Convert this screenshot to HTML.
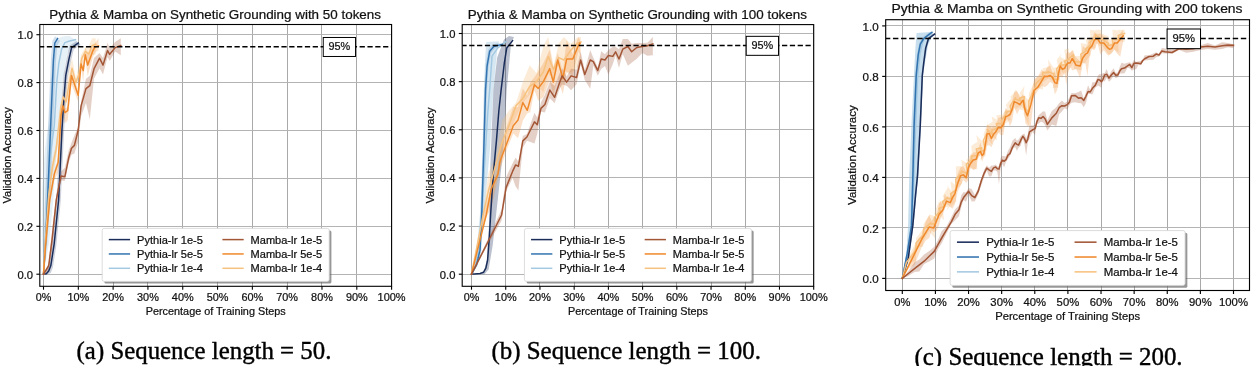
<!DOCTYPE html><html><head><meta charset="utf-8"><style>html,body{margin:0;padding:0;background:#fff;}body{width:1255px;height:366px;overflow:hidden;}svg{display:block;will-change:transform;font-family:"Liberation Sans",sans-serif;}</style></head><body>
<svg width="1255" height="366" viewBox="0 0 1255 366">
<rect width="1255" height="366" fill="#fff"/>
<clipPath id="c1"><rect x="39.80" y="24.50" width="351.80" height="261.80"/></clipPath>
<line x1="43.50" y1="24.50" x2="43.50" y2="286.30" stroke="#a9a9a9" stroke-width="1.00"/>
<line x1="78.50" y1="24.50" x2="78.50" y2="286.30" stroke="#a9a9a9" stroke-width="1.00"/>
<line x1="113.50" y1="24.50" x2="113.50" y2="286.30" stroke="#a9a9a9" stroke-width="1.00"/>
<line x1="147.50" y1="24.50" x2="147.50" y2="286.30" stroke="#a9a9a9" stroke-width="1.00"/>
<line x1="182.50" y1="24.50" x2="182.50" y2="286.30" stroke="#a9a9a9" stroke-width="1.00"/>
<line x1="217.50" y1="24.50" x2="217.50" y2="286.30" stroke="#a9a9a9" stroke-width="1.00"/>
<line x1="252.50" y1="24.50" x2="252.50" y2="286.30" stroke="#a9a9a9" stroke-width="1.00"/>
<line x1="287.50" y1="24.50" x2="287.50" y2="286.30" stroke="#a9a9a9" stroke-width="1.00"/>
<line x1="321.50" y1="24.50" x2="321.50" y2="286.30" stroke="#a9a9a9" stroke-width="1.00"/>
<line x1="356.50" y1="24.50" x2="356.50" y2="286.30" stroke="#a9a9a9" stroke-width="1.00"/>
<line x1="391.50" y1="24.50" x2="391.50" y2="286.30" stroke="#a9a9a9" stroke-width="1.00"/>
<line x1="39.80" y1="274.50" x2="391.60" y2="274.50" stroke="#b4b4b4" stroke-width="1.00"/>
<line x1="39.80" y1="226.50" x2="391.60" y2="226.50" stroke="#b4b4b4" stroke-width="1.00"/>
<line x1="39.80" y1="178.50" x2="391.60" y2="178.50" stroke="#b4b4b4" stroke-width="1.00"/>
<line x1="39.80" y1="130.50" x2="391.60" y2="130.50" stroke="#b4b4b4" stroke-width="1.00"/>
<line x1="39.80" y1="82.50" x2="391.60" y2="82.50" stroke="#b4b4b4" stroke-width="1.00"/>
<line x1="39.80" y1="34.50" x2="391.60" y2="34.50" stroke="#b4b4b4" stroke-width="1.00"/>
<g clip-path="url(#c1)">
<polygon points="43.50,274.20 41.88,235.08 42.11,190.38 44.89,149.66 48.72,120.92 51.16,77.81 53.25,58.65 56.03,44.28 59.34,37.81 64.04,36.14 69.96,35.90 81.09,44.52 75.18,45.72 70.48,47.39 67.17,53.86 64.39,68.23 62.30,87.39 59.86,130.50 56.03,159.24 53.25,199.95 49.30,241.47 43.50,274.20" fill="#a3c9e2" fill-opacity="0.28"/>
<polygon points="43.50,274.20 43.86,242.19 45.17,197.56 48.03,128.10 50.98,57.69 52.38,40.69 55.16,36.14 60.03,40.93 57.25,45.48 55.86,62.48 52.90,132.90 50.04,202.35 47.11,245.38 43.50,274.20" fill="#3374b0" fill-opacity="0.22"/>
<polygon points="43.50,274.20 44.89,272.44 46.63,269.17 48.72,263.66 52.10,241.87 56.52,198.04 59.86,128.10 61.84,96.25 63.69,73.50 66.65,58.17 69.50,45.72 76.22,41.17 80.40,45.00 73.68,49.55 70.83,62.00 67.87,77.33 66.02,100.08 64.04,131.94 60.70,201.87 56.28,245.70 52.90,267.49 50.81,273.00 47.68,274.20 43.50,274.20" fill="#1a2d5a" fill-opacity="0.22"/>
<polygon points="43.50,274.20 45.24,239.11 48.72,182.52 52.55,157.96 56.03,144.45 58.82,116.02 60.91,102.25 63.34,92.70 66.13,91.43 69.26,69.37 72.04,58.30 75.87,77.66 79.35,64.35 81.79,53.38 85.27,47.81 88.75,46.08 92.23,38.29 95.72,38.29 95.72,54.30 92.23,55.27 88.75,65.69 85.27,59.48 81.79,64.44 79.35,76.97 75.87,86.10 72.04,77.77 69.26,95.66 66.13,105.53 63.34,108.47 60.91,112.95 58.82,137.04 56.03,158.16 52.55,175.69 48.72,203.20 45.24,247.56 43.50,274.20" fill="#f7c27f" fill-opacity="0.30"/>
<polygon points="43.50,274.20 45.59,241.98 49.77,191.34 54.29,171.12 58.12,157.36 60.10,121.19 61.01,107.72 62.89,101.70 64.91,108.26 67.69,107.24 71.49,71.90 78.21,89.51 81.09,53.78 83.18,67.23 85.27,47.56 87.71,53.73 92.93,46.66 95.02,42.88 98.50,38.29 98.50,50.24 95.02,52.48 92.93,57.03 87.71,76.15 85.27,58.48 83.18,81.39 81.09,66.95 78.21,101.66 71.49,84.21 67.69,120.56 64.91,123.22 62.89,112.50 61.01,123.99 60.10,138.08 58.12,172.45 54.29,180.19 49.77,204.06 45.59,249.73 43.50,274.20" fill="#f0892b" fill-opacity="0.25"/>
<polygon points="43.50,274.20 48.72,263.02 52.20,229.50 56.28,195.48 61.01,171.86 64.91,167.52 68.70,150.35 71.52,142.81 74.41,135.25 78.21,127.02 81.09,101.69 85.97,78.73 89.80,75.71 93.97,57.89 99.54,53.08 103.03,58.05 107.55,42.77 109.64,48.32 115.21,42.05 120.78,38.29 120.78,55.23 115.21,51.52 109.64,60.92 107.55,57.08 103.03,74.50 99.54,68.37 93.97,78.67 89.80,119.24 85.97,102.96 81.09,116.22 78.21,142.00 74.41,153.47 71.52,154.82 68.70,162.52 64.91,180.72 61.01,180.82 56.28,204.82 52.20,248.47 48.72,269.97 43.50,274.20" fill="#a35636" fill-opacity="0.28"/>
<polyline points="43.50,274.20 45.59,238.27 47.68,195.16 50.46,154.45 54.29,125.71 56.73,82.60 58.82,63.44 61.60,49.07 64.91,42.60 69.61,40.93 75.53,39.73" fill="none" stroke="#a3c9e2" stroke-width="1.50" stroke-linejoin="round" stroke-linecap="square"/>
<polyline points="43.50,274.20 45.48,243.78 47.61,199.95 50.46,130.50 53.42,60.09 54.81,43.08 57.60,38.53" fill="none" stroke="#3374b0" stroke-width="1.50" stroke-linejoin="round" stroke-linecap="square"/>
<polyline points="43.50,274.20 46.28,273.72 48.72,271.09 50.81,265.58 54.19,243.78 58.61,199.95 61.95,130.02 63.93,98.17 65.78,75.41 68.74,60.09 71.59,47.63 78.31,43.08" fill="none" stroke="#1a2d5a" stroke-width="1.50" stroke-linejoin="round" stroke-linecap="square"/>
<polyline points="43.50,274.20 45.24,243.06 48.72,195.16 52.55,166.42 56.03,149.66 58.82,125.71 60.91,106.55 63.34,96.97 66.13,101.76 69.26,82.60 72.04,68.23 75.87,82.60 79.35,73.02 81.79,58.65 85.27,51.46 88.75,53.86 92.23,45.48 95.72,44.28" fill="none" stroke="#f7c27f" stroke-width="1.50" stroke-linejoin="round" stroke-linecap="square"/>
<polyline points="43.50,274.20 45.59,245.46 49.77,199.95 54.29,174.09 58.12,162.59 60.10,130.02 61.01,115.41 62.89,105.83 64.91,112.54 67.69,110.62 71.49,75.41 78.21,95.29 81.09,63.92 83.18,70.62 85.27,54.82 87.71,65.12 92.93,50.51 95.02,46.91 98.50,45.96" fill="none" stroke="#f0892b" stroke-width="1.50" stroke-linejoin="round" stroke-linecap="square"/>
<polyline points="43.50,274.20 48.72,265.58 52.20,238.27 56.28,199.95 61.01,176.00 64.91,176.72 68.70,157.80 71.52,148.22 74.41,145.35 78.21,130.02 81.09,105.83 85.97,88.59 89.80,85.71 93.97,68.95 99.54,58.17 103.03,65.12 107.55,50.51 109.64,54.34 115.21,47.63 120.78,45.48" fill="none" stroke="#a35636" stroke-width="1.50" stroke-linejoin="round" stroke-linecap="square"/>
<line x1="39.80" y1="46.68" x2="391.60" y2="46.68" stroke="#000" stroke-width="1.50" stroke-dasharray="5.25 2.57" stroke-dashoffset="0.80"/>
</g>
<rect x="323.24" y="37.48" width="32.30" height="19.00" fill="#fff" stroke="#000" stroke-width="1.00"/>
<text x="339.39" y="50.28" font-size="10.39" text-anchor="middle" textLength="21.78" lengthAdjust="spacingAndGlyphs" fill="#111" stroke="#111" stroke-width="0.22">95%</text>
<rect x="39.80" y="24.50" width="351.80" height="261.80" fill="none" stroke="#000" stroke-width="1.10"/>
<line x1="43.50" y1="286.30" x2="43.50" y2="289.70" stroke="#000" stroke-width="1.10"/>
<text x="43.50" y="301.10" font-size="10.39" text-anchor="middle" textLength="15.55" lengthAdjust="spacingAndGlyphs" fill="#111" stroke="#111" stroke-width="0.22">0%</text>
<line x1="78.31" y1="286.30" x2="78.31" y2="289.70" stroke="#000" stroke-width="1.10"/>
<text x="78.31" y="301.10" font-size="10.39" text-anchor="middle" textLength="21.78" lengthAdjust="spacingAndGlyphs" fill="#111" stroke="#111" stroke-width="0.22">10%</text>
<line x1="113.12" y1="286.30" x2="113.12" y2="289.70" stroke="#000" stroke-width="1.10"/>
<text x="113.12" y="301.10" font-size="10.39" text-anchor="middle" textLength="21.78" lengthAdjust="spacingAndGlyphs" fill="#111" stroke="#111" stroke-width="0.22">20%</text>
<line x1="147.93" y1="286.30" x2="147.93" y2="289.70" stroke="#000" stroke-width="1.10"/>
<text x="147.93" y="301.10" font-size="10.39" text-anchor="middle" textLength="21.78" lengthAdjust="spacingAndGlyphs" fill="#111" stroke="#111" stroke-width="0.22">30%</text>
<line x1="182.74" y1="286.30" x2="182.74" y2="289.70" stroke="#000" stroke-width="1.10"/>
<text x="182.74" y="301.10" font-size="10.39" text-anchor="middle" textLength="21.78" lengthAdjust="spacingAndGlyphs" fill="#111" stroke="#111" stroke-width="0.22">40%</text>
<line x1="217.55" y1="286.30" x2="217.55" y2="289.70" stroke="#000" stroke-width="1.10"/>
<text x="217.55" y="301.10" font-size="10.39" text-anchor="middle" textLength="21.78" lengthAdjust="spacingAndGlyphs" fill="#111" stroke="#111" stroke-width="0.22">50%</text>
<line x1="252.36" y1="286.30" x2="252.36" y2="289.70" stroke="#000" stroke-width="1.10"/>
<text x="252.36" y="301.10" font-size="10.39" text-anchor="middle" textLength="21.78" lengthAdjust="spacingAndGlyphs" fill="#111" stroke="#111" stroke-width="0.22">60%</text>
<line x1="287.17" y1="286.30" x2="287.17" y2="289.70" stroke="#000" stroke-width="1.10"/>
<text x="287.17" y="301.10" font-size="10.39" text-anchor="middle" textLength="21.78" lengthAdjust="spacingAndGlyphs" fill="#111" stroke="#111" stroke-width="0.22">70%</text>
<line x1="321.98" y1="286.30" x2="321.98" y2="289.70" stroke="#000" stroke-width="1.10"/>
<text x="321.98" y="301.10" font-size="10.39" text-anchor="middle" textLength="21.78" lengthAdjust="spacingAndGlyphs" fill="#111" stroke="#111" stroke-width="0.22">80%</text>
<line x1="356.79" y1="286.30" x2="356.79" y2="289.70" stroke="#000" stroke-width="1.10"/>
<text x="356.79" y="301.10" font-size="10.39" text-anchor="middle" textLength="21.78" lengthAdjust="spacingAndGlyphs" fill="#111" stroke="#111" stroke-width="0.22">90%</text>
<line x1="391.60" y1="286.30" x2="391.60" y2="289.70" stroke="#000" stroke-width="1.10"/>
<text x="391.60" y="301.10" font-size="10.39" text-anchor="middle" textLength="28.02" lengthAdjust="spacingAndGlyphs" fill="#111" stroke="#111" stroke-width="0.22">100%</text>
<line x1="36.40" y1="274.20" x2="39.80" y2="274.20" stroke="#000" stroke-width="1.10"/>
<text x="33.00" y="278.70" font-size="10.39" text-anchor="end" textLength="15.59" lengthAdjust="spacingAndGlyphs" fill="#111" stroke="#111" stroke-width="0.22">0.0</text>
<line x1="36.40" y1="226.30" x2="39.80" y2="226.30" stroke="#000" stroke-width="1.10"/>
<text x="33.00" y="230.80" font-size="10.39" text-anchor="end" textLength="15.59" lengthAdjust="spacingAndGlyphs" fill="#111" stroke="#111" stroke-width="0.22">0.2</text>
<line x1="36.40" y1="178.40" x2="39.80" y2="178.40" stroke="#000" stroke-width="1.10"/>
<text x="33.00" y="182.90" font-size="10.39" text-anchor="end" textLength="15.59" lengthAdjust="spacingAndGlyphs" fill="#111" stroke="#111" stroke-width="0.22">0.4</text>
<line x1="36.40" y1="130.50" x2="39.80" y2="130.50" stroke="#000" stroke-width="1.10"/>
<text x="33.00" y="135.00" font-size="10.39" text-anchor="end" textLength="15.59" lengthAdjust="spacingAndGlyphs" fill="#111" stroke="#111" stroke-width="0.22">0.6</text>
<line x1="36.40" y1="82.60" x2="39.80" y2="82.60" stroke="#000" stroke-width="1.10"/>
<text x="33.00" y="87.10" font-size="10.39" text-anchor="end" textLength="15.59" lengthAdjust="spacingAndGlyphs" fill="#111" stroke="#111" stroke-width="0.22">0.8</text>
<line x1="36.40" y1="34.70" x2="39.80" y2="34.70" stroke="#000" stroke-width="1.10"/>
<text x="33.00" y="39.20" font-size="10.39" text-anchor="end" textLength="15.59" lengthAdjust="spacingAndGlyphs" fill="#111" stroke="#111" stroke-width="0.22">1.0</text>
<text x="215.70" y="314.90" font-size="10.39" text-anchor="middle" textLength="140.01" lengthAdjust="spacingAndGlyphs" fill="#111" stroke="#111" stroke-width="0.22">Percentage of Training Steps</text>
<text x="11.20" y="155.40" font-size="10.39" text-anchor="middle" textLength="96.25" lengthAdjust="spacingAndGlyphs" fill="#111" stroke="#111" stroke-width="0.22" transform="rotate(-90 11.20 155.40)">Validation Accuracy</text>
<text x="215.10" y="18.70" font-size="12.49" text-anchor="middle" textLength="331.74" lengthAdjust="spacingAndGlyphs" fill="#111" stroke="#111" stroke-width="0.22">Pythia &amp; Mamba on Synthetic Grounding with 50 tokens</text>
<rect x="104.40" y="230.60" width="227.00" height="53.00" rx="1.50" fill="#666" fill-opacity="0.68"/>
<rect x="102.20" y="228.40" width="227.00" height="53.00" rx="2.00" fill="#fff" stroke="#d4d4d4" stroke-width="0.80"/>
<line x1="108.80" y1="239.60" x2="130.10" y2="239.60" stroke="#1a2d5a" stroke-width="1.50"/>
<text x="137.00" y="243.50" font-size="10.39" text-anchor="start" textLength="65.93" lengthAdjust="spacingAndGlyphs" fill="#111" stroke="#111" stroke-width="0.22">Pythia-lr 1e-5</text>
<line x1="108.80" y1="253.95" x2="130.10" y2="253.95" stroke="#3374b0" stroke-width="1.50"/>
<text x="137.00" y="257.85" font-size="10.39" text-anchor="start" textLength="65.93" lengthAdjust="spacingAndGlyphs" fill="#111" stroke="#111" stroke-width="0.22">Pythia-lr 5e-5</text>
<line x1="108.80" y1="268.30" x2="130.10" y2="268.30" stroke="#a3c9e2" stroke-width="1.50"/>
<text x="137.00" y="272.20" font-size="10.39" text-anchor="start" textLength="65.93" lengthAdjust="spacingAndGlyphs" fill="#111" stroke="#111" stroke-width="0.22">Pythia-lr 1e-4</text>
<line x1="222.40" y1="239.60" x2="243.70" y2="239.60" stroke="#a35636" stroke-width="1.50"/>
<text x="250.60" y="243.50" font-size="10.39" text-anchor="start" textLength="71.67" lengthAdjust="spacingAndGlyphs" fill="#111" stroke="#111" stroke-width="0.22">Mamba-lr 1e-5</text>
<line x1="222.40" y1="253.95" x2="243.70" y2="253.95" stroke="#f0892b" stroke-width="1.50"/>
<text x="250.60" y="257.85" font-size="10.39" text-anchor="start" textLength="71.67" lengthAdjust="spacingAndGlyphs" fill="#111" stroke="#111" stroke-width="0.22">Mamba-lr 5e-5</text>
<line x1="222.40" y1="268.30" x2="243.70" y2="268.30" stroke="#f7c27f" stroke-width="1.50"/>
<text x="250.60" y="272.20" font-size="10.39" text-anchor="start" textLength="71.67" lengthAdjust="spacingAndGlyphs" fill="#111" stroke="#111" stroke-width="0.22">Mamba-lr 1e-4</text>
<text x="76.60" y="358.80" font-family="Liberation Serif" font-size="24.60" textLength="254.80" lengthAdjust="spacingAndGlyphs" fill="#000" stroke="#000" stroke-width="0.4">(a) Sequence length = 50.</text>
<clipPath id="c2"><rect x="462.20" y="24.60" width="351.50" height="261.70"/></clipPath>
<line x1="471.50" y1="24.60" x2="471.50" y2="286.30" stroke="#a9a9a9" stroke-width="1.00"/>
<line x1="505.50" y1="24.60" x2="505.50" y2="286.30" stroke="#a9a9a9" stroke-width="1.00"/>
<line x1="539.50" y1="24.60" x2="539.50" y2="286.30" stroke="#a9a9a9" stroke-width="1.00"/>
<line x1="574.50" y1="24.60" x2="574.50" y2="286.30" stroke="#a9a9a9" stroke-width="1.00"/>
<line x1="608.50" y1="24.60" x2="608.50" y2="286.30" stroke="#a9a9a9" stroke-width="1.00"/>
<line x1="642.50" y1="24.60" x2="642.50" y2="286.30" stroke="#a9a9a9" stroke-width="1.00"/>
<line x1="676.50" y1="24.60" x2="676.50" y2="286.30" stroke="#a9a9a9" stroke-width="1.00"/>
<line x1="711.50" y1="24.60" x2="711.50" y2="286.30" stroke="#a9a9a9" stroke-width="1.00"/>
<line x1="745.50" y1="24.60" x2="745.50" y2="286.30" stroke="#a9a9a9" stroke-width="1.00"/>
<line x1="779.50" y1="24.60" x2="779.50" y2="286.30" stroke="#a9a9a9" stroke-width="1.00"/>
<line x1="813.50" y1="24.60" x2="813.50" y2="286.30" stroke="#a9a9a9" stroke-width="1.00"/>
<line x1="462.20" y1="274.50" x2="813.70" y2="274.50" stroke="#b4b4b4" stroke-width="1.00"/>
<line x1="462.20" y1="226.50" x2="813.70" y2="226.50" stroke="#b4b4b4" stroke-width="1.00"/>
<line x1="462.20" y1="177.50" x2="813.70" y2="177.50" stroke="#b4b4b4" stroke-width="1.00"/>
<line x1="462.20" y1="129.50" x2="813.70" y2="129.50" stroke="#b4b4b4" stroke-width="1.00"/>
<line x1="462.20" y1="81.50" x2="813.70" y2="81.50" stroke="#b4b4b4" stroke-width="1.00"/>
<line x1="462.20" y1="33.50" x2="813.70" y2="33.50" stroke="#b4b4b4" stroke-width="1.00"/>
<g clip-path="url(#c2)">
<polygon points="471.50,274.20 476.63,250.13 480.40,209.21 483.13,149.04 483.82,90.06 485.19,57.57 486.21,41.92 498.88,41.20 497.17,50.35 493.40,90.06 489.98,149.04 484.50,209.21 480.06,250.13 473.21,274.20" fill="#a3c9e2" fill-opacity="0.45"/>
<polygon points="471.50,274.20 475.72,263.29 478.69,248.20 480.40,212.10 482.45,147.11 484.16,88.14 485.74,64.07 488.27,49.39 492.37,44.57 500.93,42.41 503.67,46.26 495.11,48.42 491.01,53.24 488.47,67.92 486.90,91.99 485.19,150.96 483.13,215.95 481.42,252.06 477.55,265.86 471.50,274.20" fill="#3374b0" fill-opacity="0.18"/>
<polygon points="471.50,274.20 483.48,273.00 486.90,259.76 488.95,226.06 490.32,165.88 493.40,90.06 497.17,57.57 504.01,39.52 509.14,35.91 513.93,37.11 510.85,45.53 506.75,90.06 503.32,149.04 497.51,201.99 492.72,245.32 488.61,269.39 484.50,274.20" fill="#1a2d5a" fill-opacity="0.30"/>
<polygon points="471.50,274.20 483.13,211.64 488.61,172.39 495.45,158.01 502.30,120.26 509.14,110.41 515.99,102.75 522.83,82.07 529.67,65.22 536.52,73.37 543.36,46.07 548.15,37.11 553.63,65.93 558.76,43.18 563.89,37.11 570.74,43.88 577.58,37.35 581.00,37.11 581.00,57.57 577.58,67.46 570.74,72.13 563.89,71.38 558.76,63.13 553.63,80.09 548.15,73.49 543.36,91.97 536.52,85.51 529.67,94.71 522.83,102.98 515.99,117.17 509.14,133.31 502.30,156.54 495.45,187.09 488.61,203.91 483.13,224.40 471.50,274.20" fill="#f7c27f" fill-opacity="0.32"/>
<polygon points="471.50,274.20 486.21,205.60 491.18,186.66 497.85,169.19 499.90,148.34 507.77,123.27 513.25,106.89 518.04,107.33 522.83,88.54 527.28,95.85 530.19,82.49 534.46,77.22 538.23,71.49 543.36,63.22 549.69,49.82 553.29,67.85 557.73,53.33 562.87,70.93 566.63,40.30 572.79,54.38 578.27,37.11 579.98,40.11 579.98,54.51 578.27,51.15 572.79,75.48 566.63,72.46 562.87,94.21 557.73,78.72 553.29,94.90 549.69,80.62 543.36,97.22 538.23,100.65 534.46,90.23 530.19,112.32 527.28,113.29 522.83,120.76 518.04,138.23 513.25,133.39 507.77,147.03 499.90,169.95 497.85,178.81 491.18,208.71 486.21,217.29 471.50,274.20" fill="#f0892b" fill-opacity="0.25"/>
<polygon points="471.50,274.20 501.61,209.54 506.06,177.17 512.56,163.40 515.64,157.44 518.38,161.81 522.83,136.05 526.94,133.90 534.46,112.80 537.20,117.39 540.97,102.36 544.90,94.83 549.86,81.48 554.65,85.99 559.45,73.61 562.18,68.02 566.63,76.51 571.08,68.87 576.56,69.54 580.66,51.52 584.77,69.98 590.24,50.02 593.32,57.78 597.77,67.34 601.19,51.16 604.96,54.22 608.38,50.02 612.83,46.74 615.57,46.67 618.99,49.33 622.75,39.08 627.89,38.88 631.65,43.77 636.78,43.12 642.26,43.12 647.39,42.68 652.87,37.11 652.87,55.18 647.39,55.68 642.26,52.99 636.78,58.80 631.65,62.87 627.89,65.75 622.75,54.10 618.99,68.03 615.57,55.61 612.83,64.01 608.38,74.66 604.96,66.07 601.19,69.01 597.77,75.84 593.32,65.40 590.24,88.86 584.77,80.11 580.66,64.44 576.56,84.31 571.08,90.31 566.63,85.75 562.18,84.48 559.45,89.17 554.65,103.32 549.86,98.33 544.90,112.50 540.97,111.74 537.20,133.98 534.46,143.50 526.94,140.63 522.83,147.68 518.38,190.44 515.64,186.59 512.56,177.98 506.06,191.40 501.61,220.54 471.50,274.20" fill="#a35636" fill-opacity="0.28"/>
<polyline points="471.50,274.20 474.92,266.98 479.03,250.13 482.45,201.99 485.19,153.85 487.58,115.34 489.64,90.06 492.03,56.13 497.85,47.94 506.06,41.44" fill="none" stroke="#a3c9e2" stroke-width="1.50" stroke-linejoin="round" stroke-linecap="square"/>
<polyline points="471.50,274.20 476.63,264.57 480.06,250.13 481.77,214.02 483.82,149.04 485.53,90.06 487.10,65.99 489.64,51.31 493.74,46.50 502.30,44.33" fill="none" stroke="#3374b0" stroke-width="1.50" stroke-linejoin="round" stroke-linecap="square"/>
<polyline points="471.50,274.20 480.06,273.48 483.48,272.27 485.87,268.18 487.58,260.24 489.29,238.09 490.66,214.02 493.40,173.11 496.48,140.13 498.88,110.52 501.10,90.06 504.35,62.87 506.75,47.94 512.56,40.72" fill="none" stroke="#1a2d5a" stroke-width="1.50" stroke-linejoin="round" stroke-linecap="square"/>
<polyline points="471.50,274.20 483.13,214.99 488.61,189.95 495.45,165.88 502.30,141.81 509.14,124.97 515.99,105.71 522.83,98.49 529.67,86.45 536.52,81.64 543.36,72.01 548.15,56.37 553.63,69.60 558.76,57.57 563.89,59.98 570.74,50.35 577.58,43.13 581.00,41.92" fill="none" stroke="#f7c27f" stroke-width="1.50" stroke-linejoin="round" stroke-linecap="square"/>
<polyline points="471.50,274.20 486.21,214.99 491.18,189.23 497.85,174.55 499.90,161.79 507.77,140.85 513.25,125.69 518.04,119.91 522.83,102.58 527.28,110.28 530.19,99.93 534.46,84.77 538.23,88.38 543.36,81.64 549.69,68.64 553.29,82.12 557.73,59.98 562.87,78.51 566.63,59.01 572.79,59.01 578.27,45.78 579.98,43.13" fill="none" stroke="#f0892b" stroke-width="1.50" stroke-linejoin="round" stroke-linecap="square"/>
<polyline points="471.50,274.20 501.61,214.99 506.06,187.79 512.56,171.42 515.64,164.92 518.38,166.37 522.83,140.85 526.94,137.00 534.46,121.84 537.20,124.73 540.97,108.36 544.90,104.51 549.86,90.06 554.65,97.29 559.45,83.08 562.18,75.86 566.63,82.12 571.08,75.86 576.56,77.55 580.66,59.98 584.77,74.42 590.24,59.98 593.32,61.66 597.77,70.57 601.19,59.01 604.96,59.98 608.38,55.40 612.83,56.37 615.57,51.79 618.99,59.01 622.75,49.15 627.89,46.50 631.65,51.79 636.78,47.46 642.26,46.50 647.39,45.78 652.87,43.85" fill="none" stroke="#a35636" stroke-width="1.50" stroke-linejoin="round" stroke-linecap="square"/>
<line x1="462.20" y1="45.53" x2="813.70" y2="45.53" stroke="#000" stroke-width="1.50" stroke-dasharray="5.25 2.57" stroke-dashoffset="0.80"/>
</g>
<rect x="746.22" y="36.33" width="32.30" height="19.00" fill="#fff" stroke="#000" stroke-width="1.00"/>
<text x="762.37" y="49.13" font-size="10.39" text-anchor="middle" textLength="21.78" lengthAdjust="spacingAndGlyphs" fill="#111" stroke="#111" stroke-width="0.22">95%</text>
<rect x="462.20" y="24.60" width="351.50" height="261.70" fill="none" stroke="#000" stroke-width="1.10"/>
<line x1="471.50" y1="286.30" x2="471.50" y2="289.70" stroke="#000" stroke-width="1.10"/>
<text x="471.50" y="301.10" font-size="10.39" text-anchor="middle" textLength="15.55" lengthAdjust="spacingAndGlyphs" fill="#111" stroke="#111" stroke-width="0.22">0%</text>
<line x1="505.72" y1="286.30" x2="505.72" y2="289.70" stroke="#000" stroke-width="1.10"/>
<text x="505.72" y="301.10" font-size="10.39" text-anchor="middle" textLength="21.78" lengthAdjust="spacingAndGlyphs" fill="#111" stroke="#111" stroke-width="0.22">10%</text>
<line x1="539.94" y1="286.30" x2="539.94" y2="289.70" stroke="#000" stroke-width="1.10"/>
<text x="539.94" y="301.10" font-size="10.39" text-anchor="middle" textLength="21.78" lengthAdjust="spacingAndGlyphs" fill="#111" stroke="#111" stroke-width="0.22">20%</text>
<line x1="574.16" y1="286.30" x2="574.16" y2="289.70" stroke="#000" stroke-width="1.10"/>
<text x="574.16" y="301.10" font-size="10.39" text-anchor="middle" textLength="21.78" lengthAdjust="spacingAndGlyphs" fill="#111" stroke="#111" stroke-width="0.22">30%</text>
<line x1="608.38" y1="286.30" x2="608.38" y2="289.70" stroke="#000" stroke-width="1.10"/>
<text x="608.38" y="301.10" font-size="10.39" text-anchor="middle" textLength="21.78" lengthAdjust="spacingAndGlyphs" fill="#111" stroke="#111" stroke-width="0.22">40%</text>
<line x1="642.60" y1="286.30" x2="642.60" y2="289.70" stroke="#000" stroke-width="1.10"/>
<text x="642.60" y="301.10" font-size="10.39" text-anchor="middle" textLength="21.78" lengthAdjust="spacingAndGlyphs" fill="#111" stroke="#111" stroke-width="0.22">50%</text>
<line x1="676.82" y1="286.30" x2="676.82" y2="289.70" stroke="#000" stroke-width="1.10"/>
<text x="676.82" y="301.10" font-size="10.39" text-anchor="middle" textLength="21.78" lengthAdjust="spacingAndGlyphs" fill="#111" stroke="#111" stroke-width="0.22">60%</text>
<line x1="711.04" y1="286.30" x2="711.04" y2="289.70" stroke="#000" stroke-width="1.10"/>
<text x="711.04" y="301.10" font-size="10.39" text-anchor="middle" textLength="21.78" lengthAdjust="spacingAndGlyphs" fill="#111" stroke="#111" stroke-width="0.22">70%</text>
<line x1="745.26" y1="286.30" x2="745.26" y2="289.70" stroke="#000" stroke-width="1.10"/>
<text x="745.26" y="301.10" font-size="10.39" text-anchor="middle" textLength="21.78" lengthAdjust="spacingAndGlyphs" fill="#111" stroke="#111" stroke-width="0.22">80%</text>
<line x1="779.48" y1="286.30" x2="779.48" y2="289.70" stroke="#000" stroke-width="1.10"/>
<text x="779.48" y="301.10" font-size="10.39" text-anchor="middle" textLength="21.78" lengthAdjust="spacingAndGlyphs" fill="#111" stroke="#111" stroke-width="0.22">90%</text>
<line x1="813.70" y1="286.30" x2="813.70" y2="289.70" stroke="#000" stroke-width="1.10"/>
<text x="813.70" y="301.10" font-size="10.39" text-anchor="middle" textLength="28.02" lengthAdjust="spacingAndGlyphs" fill="#111" stroke="#111" stroke-width="0.22">100%</text>
<line x1="458.80" y1="274.20" x2="462.20" y2="274.20" stroke="#000" stroke-width="1.10"/>
<text x="455.40" y="278.70" font-size="10.39" text-anchor="end" textLength="15.59" lengthAdjust="spacingAndGlyphs" fill="#111" stroke="#111" stroke-width="0.22">0.0</text>
<line x1="458.80" y1="226.06" x2="462.20" y2="226.06" stroke="#000" stroke-width="1.10"/>
<text x="455.40" y="230.56" font-size="10.39" text-anchor="end" textLength="15.59" lengthAdjust="spacingAndGlyphs" fill="#111" stroke="#111" stroke-width="0.22">0.2</text>
<line x1="458.80" y1="177.92" x2="462.20" y2="177.92" stroke="#000" stroke-width="1.10"/>
<text x="455.40" y="182.42" font-size="10.39" text-anchor="end" textLength="15.59" lengthAdjust="spacingAndGlyphs" fill="#111" stroke="#111" stroke-width="0.22">0.4</text>
<line x1="458.80" y1="129.78" x2="462.20" y2="129.78" stroke="#000" stroke-width="1.10"/>
<text x="455.40" y="134.28" font-size="10.39" text-anchor="end" textLength="15.59" lengthAdjust="spacingAndGlyphs" fill="#111" stroke="#111" stroke-width="0.22">0.6</text>
<line x1="458.80" y1="81.64" x2="462.20" y2="81.64" stroke="#000" stroke-width="1.10"/>
<text x="455.40" y="86.14" font-size="10.39" text-anchor="end" textLength="15.59" lengthAdjust="spacingAndGlyphs" fill="#111" stroke="#111" stroke-width="0.22">0.8</text>
<line x1="458.80" y1="33.50" x2="462.20" y2="33.50" stroke="#000" stroke-width="1.10"/>
<text x="455.40" y="38.00" font-size="10.39" text-anchor="end" textLength="15.59" lengthAdjust="spacingAndGlyphs" fill="#111" stroke="#111" stroke-width="0.22">1.0</text>
<text x="637.95" y="314.90" font-size="10.39" text-anchor="middle" textLength="140.01" lengthAdjust="spacingAndGlyphs" fill="#111" stroke="#111" stroke-width="0.22">Percentage of Training Steps</text>
<text x="433.60" y="155.45" font-size="10.39" text-anchor="middle" textLength="96.25" lengthAdjust="spacingAndGlyphs" fill="#111" stroke="#111" stroke-width="0.22" transform="rotate(-90 433.60 155.45)">Validation Accuracy</text>
<text x="637.35" y="18.70" font-size="12.49" text-anchor="middle" textLength="339.24" lengthAdjust="spacingAndGlyphs" fill="#111" stroke="#111" stroke-width="0.22">Pythia &amp; Mamba on Synthetic Grounding with 100 tokens</text>
<rect x="526.65" y="230.60" width="227.00" height="53.00" rx="1.50" fill="#666" fill-opacity="0.68"/>
<rect x="524.45" y="228.40" width="227.00" height="53.00" rx="2.00" fill="#fff" stroke="#d4d4d4" stroke-width="0.80"/>
<line x1="531.05" y1="239.60" x2="552.35" y2="239.60" stroke="#1a2d5a" stroke-width="1.50"/>
<text x="559.25" y="243.50" font-size="10.39" text-anchor="start" textLength="65.93" lengthAdjust="spacingAndGlyphs" fill="#111" stroke="#111" stroke-width="0.22">Pythia-lr 1e-5</text>
<line x1="531.05" y1="253.95" x2="552.35" y2="253.95" stroke="#3374b0" stroke-width="1.50"/>
<text x="559.25" y="257.85" font-size="10.39" text-anchor="start" textLength="65.93" lengthAdjust="spacingAndGlyphs" fill="#111" stroke="#111" stroke-width="0.22">Pythia-lr 5e-5</text>
<line x1="531.05" y1="268.30" x2="552.35" y2="268.30" stroke="#a3c9e2" stroke-width="1.50"/>
<text x="559.25" y="272.20" font-size="10.39" text-anchor="start" textLength="65.93" lengthAdjust="spacingAndGlyphs" fill="#111" stroke="#111" stroke-width="0.22">Pythia-lr 1e-4</text>
<line x1="644.65" y1="239.60" x2="665.95" y2="239.60" stroke="#a35636" stroke-width="1.50"/>
<text x="672.85" y="243.50" font-size="10.39" text-anchor="start" textLength="71.67" lengthAdjust="spacingAndGlyphs" fill="#111" stroke="#111" stroke-width="0.22">Mamba-lr 1e-5</text>
<line x1="644.65" y1="253.95" x2="665.95" y2="253.95" stroke="#f0892b" stroke-width="1.50"/>
<text x="672.85" y="257.85" font-size="10.39" text-anchor="start" textLength="71.67" lengthAdjust="spacingAndGlyphs" fill="#111" stroke="#111" stroke-width="0.22">Mamba-lr 5e-5</text>
<line x1="644.65" y1="268.30" x2="665.95" y2="268.30" stroke="#f7c27f" stroke-width="1.50"/>
<text x="672.85" y="272.20" font-size="10.39" text-anchor="start" textLength="71.67" lengthAdjust="spacingAndGlyphs" fill="#111" stroke="#111" stroke-width="0.22">Mamba-lr 1e-4</text>
<text x="491.40" y="359.00" font-family="Liberation Serif" font-size="24.70" textLength="269.60" lengthAdjust="spacingAndGlyphs" fill="#000" stroke="#000" stroke-width="0.4">(b) Sequence length = 100.</text>
<clipPath id="c3"><rect x="885.70" y="19.70" width="363.80" height="270.80"/></clipPath>
<line x1="902.50" y1="19.70" x2="902.50" y2="290.50" stroke="#a9a9a9" stroke-width="1.00"/>
<line x1="935.50" y1="19.70" x2="935.50" y2="290.50" stroke="#a9a9a9" stroke-width="1.00"/>
<line x1="968.50" y1="19.70" x2="968.50" y2="290.50" stroke="#a9a9a9" stroke-width="1.00"/>
<line x1="1001.50" y1="19.70" x2="1001.50" y2="290.50" stroke="#a9a9a9" stroke-width="1.00"/>
<line x1="1034.50" y1="19.70" x2="1034.50" y2="290.50" stroke="#a9a9a9" stroke-width="1.00"/>
<line x1="1067.50" y1="19.70" x2="1067.50" y2="290.50" stroke="#a9a9a9" stroke-width="1.00"/>
<line x1="1101.50" y1="19.70" x2="1101.50" y2="290.50" stroke="#a9a9a9" stroke-width="1.00"/>
<line x1="1134.50" y1="19.70" x2="1134.50" y2="290.50" stroke="#a9a9a9" stroke-width="1.00"/>
<line x1="1167.50" y1="19.70" x2="1167.50" y2="290.50" stroke="#a9a9a9" stroke-width="1.00"/>
<line x1="1200.50" y1="19.70" x2="1200.50" y2="290.50" stroke="#a9a9a9" stroke-width="1.00"/>
<line x1="1233.50" y1="19.70" x2="1233.50" y2="290.50" stroke="#a9a9a9" stroke-width="1.00"/>
<line x1="885.70" y1="278.50" x2="1249.50" y2="278.50" stroke="#b4b4b4" stroke-width="1.00"/>
<line x1="885.70" y1="227.50" x2="1249.50" y2="227.50" stroke="#b4b4b4" stroke-width="1.00"/>
<line x1="885.70" y1="177.50" x2="1249.50" y2="177.50" stroke="#b4b4b4" stroke-width="1.00"/>
<line x1="885.70" y1="126.50" x2="1249.50" y2="126.50" stroke="#b4b4b4" stroke-width="1.00"/>
<line x1="885.70" y1="76.50" x2="1249.50" y2="76.50" stroke="#b4b4b4" stroke-width="1.00"/>
<line x1="885.70" y1="25.50" x2="1249.50" y2="25.50" stroke="#b4b4b4" stroke-width="1.00"/>
<g clip-path="url(#c3)">
<polygon points="902.30,278.40 906.27,253.15 908.10,225.38 909.26,175.38 911.41,125.13 913.89,76.40 915.22,51.15 916.54,32.97 931.45,31.96 933.10,33.98 928.13,44.84 924.82,63.78 923.00,75.39 920.85,125.13 918.20,175.38 913.56,225.38 908.92,258.20 903.29,278.40" fill="#a3c9e2" fill-opacity="0.62"/>
<polygon points="902.30,278.40 906.61,252.31 910.58,224.11 911.90,174.12 913.10,123.87 915.22,74.13 917.20,53.68 919.29,42.82 922.70,37.26 928.13,33.22 930.78,31.20 932.77,33.73 930.12,35.75 924.69,39.79 921.28,45.34 919.19,56.20 917.20,76.65 915.08,126.40 913.89,176.64 912.57,226.64 907.93,253.99 902.30,278.40" fill="#3374b0" fill-opacity="0.15"/>
<polygon points="902.30,278.40 907.82,257.53 912.14,224.36 914.89,194.06 916.87,174.37 919.62,124.12 921.64,74.38 923.03,62.26 925.05,47.11 927.80,37.52 933.93,32.97 935.25,34.99 929.13,39.54 926.38,49.13 924.36,64.28 922.97,76.40 920.95,126.14 918.20,176.39 916.21,196.08 913.46,226.38 908.70,258.87 902.30,278.40" fill="#1a2d5a" fill-opacity="0.12"/>
<polygon points="902.30,278.40 906.44,260.53 915.88,242.42 916.21,237.67 923.17,229.23 923.58,224.06 930.62,212.55 929.54,214.39 935.09,216.20 934.43,212.90 940.39,197.23 938.90,202.94 944.03,199.03 942.62,196.13 947.84,187.61 946.43,184.46 951.65,191.56 950.66,181.17 956.29,185.92 955.79,166.60 961.92,165.99 961.42,159.79 967.55,163.53 966.39,160.14 971.85,152.64 971.36,145.73 977.48,141.70 976.32,135.01 981.79,141.07 980.13,141.57 985.10,139.19 983.44,134.66 988.41,120.27 987.25,125.22 992.72,121.54 991.56,116.49 997.02,119.80 996.36,115.34 1002.32,114.38 1001.33,116.20 1006.96,108.21 1005.80,104.97 1011.26,98.15 1010.11,97.02 1015.57,91.38 1015.07,89.08 1021.20,96.95 1019.54,93.30 1024.51,85.72 1023.35,95.58 1028.82,100.35 1028.82,93.86 1035.44,79.24 1035.94,77.89 1043.06,72.30 1042.56,68.30 1048.69,66.89 1048.03,59.39 1053.99,68.39 1052.83,67.94 1058.30,67.03 1056.64,60.08 1061.61,53.83 1060.45,57.10 1065.91,59.69 1064.26,49.74 1069.22,48.38 1068.07,53.92 1073.53,49.89 1074.19,56.47 1081.48,55.47 1080.82,43.00 1086.78,44.28 1085.45,38.04 1090.75,40.95 1089.92,29.69 1095.72,30.57 1095.39,29.69 1101.68,29.69 1101.85,33.53 1108.64,36.37 1107.48,38.04 1112.94,40.60 1112.45,29.69 1118.57,30.45 1118.24,29.69 1124.54,29.69 1124.54,42.13 1118.24,40.84 1118.57,52.74 1112.45,47.88 1112.94,51.01 1107.48,57.20 1108.64,54.51 1101.85,44.98 1101.68,46.89 1095.39,42.63 1095.72,48.42 1089.92,48.55 1090.75,54.89 1085.45,61.68 1086.78,62.19 1080.82,63.35 1081.48,70.31 1074.19,69.06 1073.53,62.73 1068.07,71.80 1069.22,68.91 1064.26,74.70 1065.91,76.37 1060.45,70.54 1061.61,73.40 1056.64,80.31 1058.30,87.47 1052.83,87.94 1053.99,82.23 1048.03,78.34 1048.69,78.20 1042.56,82.41 1043.06,89.87 1035.94,87.30 1035.44,93.28 1028.82,104.75 1028.82,125.98 1023.35,113.49 1024.51,110.46 1019.54,109.52 1021.20,105.62 1015.07,109.39 1015.57,105.35 1010.11,117.73 1011.26,119.32 1005.80,123.16 1006.96,118.61 1001.33,134.74 1002.32,128.66 996.36,135.49 997.02,140.19 991.56,136.17 992.72,145.15 987.25,137.54 988.41,141.09 983.44,153.54 985.10,154.40 980.13,161.05 981.79,153.26 976.32,161.00 977.48,169.32 971.36,168.53 971.85,167.46 966.39,171.21 967.55,179.72 961.42,176.66 961.92,183.83 955.79,189.78 956.29,201.10 950.66,207.60 951.65,204.56 946.43,210.53 947.84,206.69 942.62,207.73 944.03,220.10 938.90,215.62 940.39,218.54 934.43,221.17 935.09,238.21 929.54,231.89 930.62,228.09 923.58,240.55 923.17,246.79 916.21,247.40 915.88,260.91 906.44,264.73 902.30,278.40" fill="#f7c27f" fill-opacity="0.32"/>
<polygon points="902.30,278.40 908.43,264.29 914.55,248.12 918.20,238.92 921.84,235.07 925.57,222.26 929.29,215.27 931.53,220.99 933.76,218.00 936.41,218.09 939.06,203.83 940.88,200.67 942.71,206.45 944.61,193.76 946.52,196.65 948.42,198.41 950.32,196.41 952.64,191.52 954.96,189.01 957.78,173.39 960.59,167.37 963.41,166.49 966.22,171.63 968.37,161.23 970.53,156.60 973.34,152.55 976.16,152.14 978.31,149.02 980.46,142.60 982.12,149.73 983.78,148.88 985.43,140.93 987.09,124.68 989.24,126.06 991.39,127.64 993.55,126.53 995.70,126.87 998.35,117.77 1001.00,116.90 1003.32,116.05 1005.63,107.90 1007.79,110.57 1009.94,111.25 1012.09,101.20 1014.25,91.52 1017.06,91.08 1019.88,97.50 1021.53,96.16 1023.19,94.03 1025.34,101.53 1027.49,110.84 1030.81,96.54 1034.12,79.26 1037.93,76.59 1041.74,69.14 1044.55,73.09 1047.37,66.81 1050.02,65.43 1052.66,73.59 1054.82,70.93 1056.97,78.35 1058.63,65.83 1060.28,62.97 1062.44,64.04 1064.59,64.12 1066.24,53.90 1067.90,51.15 1070.05,53.14 1072.21,50.09 1076.18,57.68 1080.15,61.34 1082.80,45.95 1085.45,48.26 1087.44,45.52 1089.43,36.65 1091.91,39.71 1094.40,32.37 1097.38,33.98 1100.36,33.46 1103.84,36.50 1107.31,38.55 1109.47,45.07 1111.62,43.72 1114.43,39.22 1117.25,38.05 1120.23,33.21 1123.21,29.69 1123.21,41.22 1120.23,56.85 1117.25,53.80 1114.43,49.64 1111.62,53.45 1109.47,54.80 1107.31,55.12 1103.84,50.29 1100.36,54.47 1097.38,42.45 1094.40,49.91 1091.91,49.29 1089.43,57.30 1087.44,75.89 1085.45,63.71 1082.80,63.14 1080.15,78.06 1076.18,68.91 1072.21,70.52 1070.05,66.72 1067.90,73.91 1066.24,85.16 1064.59,72.11 1062.44,77.39 1060.28,76.62 1058.63,84.21 1056.97,90.52 1054.82,94.58 1052.66,83.58 1050.02,81.88 1047.37,85.56 1044.55,87.19 1041.74,85.63 1037.93,90.42 1034.12,97.00 1030.81,125.08 1027.49,125.91 1025.34,122.97 1023.19,104.17 1021.53,106.63 1019.88,108.47 1017.06,114.32 1014.25,107.55 1012.09,121.46 1009.94,126.21 1007.79,118.89 1005.63,121.08 1003.32,135.07 1001.00,135.32 998.35,132.18 995.70,138.40 993.55,141.98 991.39,147.16 989.24,145.26 987.09,145.65 985.43,155.71 983.78,157.03 982.12,162.04 980.46,155.11 978.31,156.47 976.16,168.63 973.34,170.33 970.53,167.18 968.37,179.91 966.22,182.90 963.41,179.97 960.59,185.66 957.78,191.33 954.96,203.99 952.64,208.83 950.32,207.16 948.42,205.27 946.52,204.35 944.61,209.73 942.71,214.35 940.88,217.23 939.06,225.15 936.41,230.88 933.76,232.08 931.53,230.43 929.29,237.94 925.57,240.73 921.84,246.67 918.20,256.04 914.55,265.12 908.43,268.64 902.30,278.40" fill="#f0892b" fill-opacity="0.25"/>
<polygon points="902.30,278.40 908.43,271.01 914.55,262.28 919.36,259.52 924.16,254.46 929.21,250.93 934.26,246.82 937.99,239.99 941.71,231.04 946.52,226.46 951.32,217.32 955.13,209.17 958.94,205.58 961.25,195.15 963.57,192.07 966.06,192.40 968.54,187.92 971.69,188.94 974.83,195.11 978.14,188.27 981.46,178.32 984.11,169.82 986.76,165.23 989.07,167.85 991.39,165.45 993.55,165.39 995.70,164.58 997.35,166.57 999.01,166.14 1000.67,157.90 1002.32,155.83 1004.14,156.37 1005.97,156.23 1007.95,150.73 1009.94,147.59 1012.59,140.50 1015.24,138.03 1016.90,140.84 1018.55,139.43 1020.70,135.95 1022.86,134.24 1024.51,133.51 1026.17,138.47 1027.82,134.35 1029.48,125.35 1032.30,125.59 1035.11,124.68 1036.93,118.11 1038.75,114.98 1040.91,113.15 1043.06,111.33 1045.21,111.84 1047.37,120.19 1051.84,111.02 1056.31,107.35 1059.12,103.13 1061.94,100.46 1064.59,102.95 1067.24,101.39 1069.39,97.37 1071.54,93.00 1075.02,93.25 1078.50,92.09 1081.15,90.46 1083.80,98.53 1085.95,92.17 1088.10,85.29 1090.26,89.93 1092.41,82.19 1095.22,82.32 1098.04,75.61 1099.70,74.03 1101.35,74.60 1103.01,72.97 1104.66,73.03 1106.82,69.05 1108.97,75.65 1111.29,71.28 1113.61,68.34 1115.76,72.99 1117.91,72.37 1119.73,66.99 1121.55,62.64 1124.54,63.69 1127.52,62.70 1129.67,62.25 1131.82,63.77 1133.97,59.73 1136.13,62.08 1138.45,61.37 1140.76,60.89 1142.75,59.50 1144.74,55.15 1149.04,55.23 1153.35,53.53 1156.16,52.21 1158.98,53.92 1161.96,47.81 1164.94,48.59 1172.06,49.22 1179.18,46.02 1186.30,47.87 1193.42,46.54 1200.55,45.29 1207.67,42.97 1214.95,45.54 1222.24,42.35 1227.87,43.03 1233.50,44.16 1233.50,48.35 1227.87,47.14 1222.24,48.94 1214.95,49.82 1207.67,48.97 1200.55,49.88 1193.42,51.75 1186.30,52.64 1179.18,50.05 1172.06,53.64 1164.94,53.62 1161.96,53.21 1158.98,56.49 1156.16,57.14 1153.35,59.72 1149.04,60.02 1144.74,60.58 1142.75,61.86 1140.76,65.30 1138.45,65.00 1136.13,69.33 1133.97,69.59 1131.82,70.76 1129.67,68.15 1127.52,67.74 1124.54,73.32 1121.55,73.61 1119.73,73.60 1117.91,77.25 1115.76,78.19 1113.61,75.53 1111.29,79.46 1108.97,81.80 1106.82,77.85 1104.66,81.41 1103.01,81.26 1101.35,87.64 1099.70,86.43 1098.04,85.61 1095.22,87.81 1092.41,94.40 1090.26,93.89 1088.10,94.12 1085.95,103.06 1083.80,107.33 1081.15,103.24 1078.50,103.06 1075.02,102.33 1071.54,102.84 1069.39,105.22 1067.24,109.68 1064.59,108.34 1061.94,111.44 1059.12,114.19 1056.31,125.89 1051.84,124.44 1047.37,130.61 1045.21,125.28 1043.06,122.51 1040.91,121.74 1038.75,123.51 1036.93,124.09 1035.11,134.87 1032.30,131.97 1029.48,139.01 1027.82,142.17 1026.17,155.43 1024.51,144.40 1022.86,138.54 1020.70,145.63 1018.55,147.79 1016.90,151.04 1015.24,147.04 1012.59,148.97 1009.94,156.09 1007.95,159.06 1005.97,161.93 1004.14,167.23 1002.32,164.00 1000.67,167.60 999.01,184.22 997.35,172.02 995.70,170.59 993.55,170.51 991.39,176.21 989.07,176.43 986.76,170.48 984.11,177.26 981.46,184.86 978.14,194.72 974.83,201.17 971.69,201.56 968.54,194.27 966.06,201.68 963.57,200.06 961.25,206.88 958.94,216.16 955.13,220.13 951.32,223.94 946.52,233.42 941.71,243.28 937.99,248.94 934.26,258.47 929.21,261.49 924.16,264.07 919.36,271.57 914.55,271.88 908.43,276.11 902.30,278.40" fill="#a35636" fill-opacity="0.28"/>
<polyline points="902.30,278.40 909.59,243.05 913.23,195.07 915.55,126.90 917.54,76.40 919.85,53.68 922.83,41.05 927.14,35.50 932.11,32.21" fill="none" stroke="#a3c9e2" stroke-width="1.55" stroke-linejoin="round" stroke-linecap="square"/>
<polyline points="902.30,278.40 907.27,253.15 911.57,225.38 912.90,175.38 914.09,125.13 916.21,75.39 918.20,54.94 920.28,44.08 923.70,38.53 929.13,34.49 931.78,32.47" fill="none" stroke="#3374b0" stroke-width="1.55" stroke-linejoin="round" stroke-linecap="square"/>
<polyline points="902.30,278.40 908.26,258.20 912.80,225.38 915.55,195.07 917.54,175.38 920.28,125.13 922.30,75.39 923.70,63.27 925.72,48.12 928.46,38.53 934.59,33.98" fill="none" stroke="#1a2d5a" stroke-width="1.55" stroke-linejoin="round" stroke-linecap="square"/>
<polyline points="902.30,278.40 906.44,262.37 915.88,250.12 916.21,242.67 923.17,235.22 923.58,229.16 930.62,223.10 929.54,223.61 935.09,224.11 934.43,217.42 940.39,210.73 938.90,208.58 944.03,206.44 942.62,201.89 947.84,197.35 946.43,198.10 951.65,198.86 950.66,193.57 956.29,189.77 955.79,179.34 961.92,171.84 961.42,171.07 967.55,173.86 966.39,164.11 971.85,159.72 971.36,156.12 977.48,155.43 976.32,149.09 981.79,147.86 980.13,151.72 985.10,149.88 983.44,140.24 988.41,130.18 987.25,129.77 992.72,134.73 991.56,130.54 997.02,128.16 996.36,123.59 1002.32,123.87 1001.33,120.79 1006.96,113.01 1005.80,112.06 1011.26,110.74 1010.11,105.84 1015.57,97.86 1015.07,99.11 1021.20,100.89 1019.54,98.30 1024.51,96.60 1023.35,107.25 1028.82,112.00 1028.82,101.09 1035.44,86.75 1035.94,83.29 1043.06,77.16 1042.56,72.36 1048.69,72.61 1048.03,71.63 1053.99,73.88 1052.83,78.84 1058.30,79.68 1056.64,69.17 1061.61,62.26 1060.45,65.59 1065.91,64.53 1064.26,61.17 1069.22,59.23 1068.07,59.22 1073.53,54.69 1074.19,61.49 1081.48,62.26 1080.82,54.08 1086.78,50.39 1085.45,49.38 1090.75,44.84 1089.92,42.27 1095.72,36.25 1095.39,34.84 1101.68,39.28 1101.85,39.17 1108.64,43.57 1107.48,45.48 1112.94,44.84 1112.45,39.26 1118.57,39.28 1118.24,35.38 1124.54,33.48" fill="none" stroke="#f7c27f" stroke-width="1.55" stroke-linejoin="round" stroke-linecap="square"/>
<polyline points="902.30,278.40 908.43,266.15 914.55,253.91 918.20,246.46 921.84,239.01 925.57,232.95 929.29,226.89 931.53,227.39 933.76,227.90 936.41,221.21 939.06,214.52 940.88,212.37 942.71,210.22 944.61,205.68 946.52,201.13 948.42,201.89 950.32,202.65 952.64,197.36 954.96,193.56 957.78,183.13 960.59,175.63 963.41,174.85 966.22,177.65 968.37,167.90 970.53,163.51 973.34,159.91 976.16,159.22 978.31,152.87 980.46,151.64 982.12,155.51 983.78,153.66 985.43,144.03 987.09,133.97 989.24,133.56 991.39,138.51 993.55,134.33 995.70,131.95 998.35,127.37 1001.00,127.66 1003.32,124.57 1005.63,116.80 1007.79,115.85 1009.94,114.53 1012.09,109.62 1014.25,101.65 1017.06,102.90 1019.88,104.68 1021.53,102.09 1023.19,100.39 1025.34,111.04 1027.49,115.79 1030.81,104.88 1034.12,90.54 1037.93,87.08 1041.74,80.94 1044.55,76.15 1047.37,76.40 1050.02,75.42 1052.66,77.66 1054.82,82.63 1056.97,83.47 1058.63,72.96 1060.28,66.05 1062.44,69.37 1064.59,68.32 1066.24,64.96 1067.90,63.02 1070.05,63.01 1072.21,58.47 1076.18,65.28 1080.15,66.05 1082.80,57.86 1085.45,54.18 1087.44,53.16 1089.43,48.62 1091.91,46.06 1094.40,40.04 1097.38,38.63 1100.36,43.07 1103.84,42.96 1107.31,47.36 1109.47,49.27 1111.62,48.62 1114.43,43.05 1117.25,43.07 1120.23,39.17 1123.21,35.75" fill="none" stroke="#f0892b" stroke-width="1.55" stroke-linejoin="round" stroke-linecap="square"/>
<polyline points="902.30,278.40 908.43,273.48 914.55,268.55 919.36,264.89 924.16,261.23 929.21,256.31 934.26,251.38 937.99,244.69 941.71,238.00 946.52,229.92 951.32,221.84 955.13,214.30 958.94,209.72 961.25,202.03 963.57,197.60 966.06,194.52 968.54,191.29 971.69,195.65 974.83,197.60 978.14,191.41 981.46,180.18 984.11,173.30 986.76,168.06 989.07,169.85 991.39,171.34 993.55,167.88 995.70,167.05 997.35,168.70 999.01,169.07 1000.67,163.28 1002.32,160.23 1004.14,161.13 1005.97,159.72 1007.95,155.17 1009.94,153.66 1012.59,147.08 1015.24,142.81 1016.90,144.38 1018.55,145.08 1020.70,140.47 1022.86,136.24 1024.51,138.61 1026.17,142.81 1027.82,138.93 1029.48,131.95 1032.30,130.04 1035.11,128.67 1036.93,121.70 1038.75,117.81 1040.91,118.36 1043.06,116.55 1045.21,118.93 1047.37,124.38 1051.84,117.88 1056.31,113.26 1059.12,107.74 1061.94,105.69 1064.59,106.02 1067.24,104.68 1069.39,102.32 1071.54,95.84 1075.02,95.46 1078.50,98.12 1081.15,97.71 1083.80,100.39 1085.95,96.25 1088.10,91.55 1090.26,91.96 1092.41,88.27 1095.22,85.38 1098.04,79.43 1099.70,79.88 1101.35,81.70 1103.01,79.35 1104.66,74.88 1106.82,74.25 1108.97,78.17 1111.29,74.94 1113.61,72.61 1115.76,75.26 1117.91,74.88 1119.73,71.07 1121.55,68.83 1124.54,68.02 1127.52,65.80 1129.67,64.49 1131.82,67.56 1133.97,63.22 1136.13,63.02 1138.45,63.32 1140.76,63.78 1142.75,60.52 1144.74,58.72 1149.04,56.46 1153.35,56.20 1156.16,54.03 1158.98,54.94 1161.96,50.89 1164.94,51.66 1172.06,52.52 1179.18,48.62 1186.30,49.33 1193.42,48.62 1200.55,46.97 1207.67,46.35 1214.95,47.09 1222.24,45.85 1227.87,45.14 1233.50,45.34" fill="none" stroke="#a35636" stroke-width="1.55" stroke-linejoin="round" stroke-linecap="square"/>
<line x1="885.70" y1="38.53" x2="1249.50" y2="38.53" stroke="#000" stroke-width="1.55" stroke-dasharray="5.43 2.66" stroke-dashoffset="0.83"/>
</g>
<rect x="1167.10" y="29.00" width="33.43" height="19.66" fill="#fff" stroke="#000" stroke-width="1.03"/>
<text x="1183.82" y="42.25" font-size="10.75" text-anchor="middle" textLength="22.54" lengthAdjust="spacingAndGlyphs" fill="#111" stroke="#111" stroke-width="0.22">95%</text>
<rect x="885.70" y="19.70" width="363.80" height="270.80" fill="none" stroke="#000" stroke-width="1.14"/>
<line x1="902.30" y1="290.50" x2="902.30" y2="294.02" stroke="#000" stroke-width="1.14"/>
<text x="902.30" y="305.82" font-size="10.75" text-anchor="middle" textLength="16.09" lengthAdjust="spacingAndGlyphs" fill="#111" stroke="#111" stroke-width="0.22">0%</text>
<line x1="935.42" y1="290.50" x2="935.42" y2="294.02" stroke="#000" stroke-width="1.14"/>
<text x="935.42" y="305.82" font-size="10.75" text-anchor="middle" textLength="22.54" lengthAdjust="spacingAndGlyphs" fill="#111" stroke="#111" stroke-width="0.22">10%</text>
<line x1="968.54" y1="290.50" x2="968.54" y2="294.02" stroke="#000" stroke-width="1.14"/>
<text x="968.54" y="305.82" font-size="10.75" text-anchor="middle" textLength="22.54" lengthAdjust="spacingAndGlyphs" fill="#111" stroke="#111" stroke-width="0.22">20%</text>
<line x1="1001.66" y1="290.50" x2="1001.66" y2="294.02" stroke="#000" stroke-width="1.14"/>
<text x="1001.66" y="305.82" font-size="10.75" text-anchor="middle" textLength="22.54" lengthAdjust="spacingAndGlyphs" fill="#111" stroke="#111" stroke-width="0.22">30%</text>
<line x1="1034.78" y1="290.50" x2="1034.78" y2="294.02" stroke="#000" stroke-width="1.14"/>
<text x="1034.78" y="305.82" font-size="10.75" text-anchor="middle" textLength="22.54" lengthAdjust="spacingAndGlyphs" fill="#111" stroke="#111" stroke-width="0.22">40%</text>
<line x1="1067.90" y1="290.50" x2="1067.90" y2="294.02" stroke="#000" stroke-width="1.14"/>
<text x="1067.90" y="305.82" font-size="10.75" text-anchor="middle" textLength="22.54" lengthAdjust="spacingAndGlyphs" fill="#111" stroke="#111" stroke-width="0.22">50%</text>
<line x1="1101.02" y1="290.50" x2="1101.02" y2="294.02" stroke="#000" stroke-width="1.14"/>
<text x="1101.02" y="305.82" font-size="10.75" text-anchor="middle" textLength="22.54" lengthAdjust="spacingAndGlyphs" fill="#111" stroke="#111" stroke-width="0.22">60%</text>
<line x1="1134.14" y1="290.50" x2="1134.14" y2="294.02" stroke="#000" stroke-width="1.14"/>
<text x="1134.14" y="305.82" font-size="10.75" text-anchor="middle" textLength="22.54" lengthAdjust="spacingAndGlyphs" fill="#111" stroke="#111" stroke-width="0.22">70%</text>
<line x1="1167.26" y1="290.50" x2="1167.26" y2="294.02" stroke="#000" stroke-width="1.14"/>
<text x="1167.26" y="305.82" font-size="10.75" text-anchor="middle" textLength="22.54" lengthAdjust="spacingAndGlyphs" fill="#111" stroke="#111" stroke-width="0.22">80%</text>
<line x1="1200.38" y1="290.50" x2="1200.38" y2="294.02" stroke="#000" stroke-width="1.14"/>
<text x="1200.38" y="305.82" font-size="10.75" text-anchor="middle" textLength="22.54" lengthAdjust="spacingAndGlyphs" fill="#111" stroke="#111" stroke-width="0.22">90%</text>
<line x1="1233.50" y1="290.50" x2="1233.50" y2="294.02" stroke="#000" stroke-width="1.14"/>
<text x="1233.50" y="305.82" font-size="10.75" text-anchor="middle" textLength="29.00" lengthAdjust="spacingAndGlyphs" fill="#111" stroke="#111" stroke-width="0.22">100%</text>
<line x1="882.18" y1="278.40" x2="885.70" y2="278.40" stroke="#000" stroke-width="1.14"/>
<text x="878.66" y="283.06" font-size="10.75" text-anchor="end" textLength="16.13" lengthAdjust="spacingAndGlyphs" fill="#111" stroke="#111" stroke-width="0.22">0.0</text>
<line x1="882.18" y1="227.90" x2="885.70" y2="227.90" stroke="#000" stroke-width="1.14"/>
<text x="878.66" y="232.56" font-size="10.75" text-anchor="end" textLength="16.13" lengthAdjust="spacingAndGlyphs" fill="#111" stroke="#111" stroke-width="0.22">0.2</text>
<line x1="882.18" y1="177.40" x2="885.70" y2="177.40" stroke="#000" stroke-width="1.14"/>
<text x="878.66" y="182.06" font-size="10.75" text-anchor="end" textLength="16.13" lengthAdjust="spacingAndGlyphs" fill="#111" stroke="#111" stroke-width="0.22">0.4</text>
<line x1="882.18" y1="126.90" x2="885.70" y2="126.90" stroke="#000" stroke-width="1.14"/>
<text x="878.66" y="131.56" font-size="10.75" text-anchor="end" textLength="16.13" lengthAdjust="spacingAndGlyphs" fill="#111" stroke="#111" stroke-width="0.22">0.6</text>
<line x1="882.18" y1="76.40" x2="885.70" y2="76.40" stroke="#000" stroke-width="1.14"/>
<text x="878.66" y="81.06" font-size="10.75" text-anchor="end" textLength="16.13" lengthAdjust="spacingAndGlyphs" fill="#111" stroke="#111" stroke-width="0.22">0.8</text>
<line x1="882.18" y1="25.90" x2="885.70" y2="25.90" stroke="#000" stroke-width="1.14"/>
<text x="878.66" y="30.56" font-size="10.75" text-anchor="end" textLength="16.13" lengthAdjust="spacingAndGlyphs" fill="#111" stroke="#111" stroke-width="0.22">1.0</text>
<text x="1067.60" y="320.10" font-size="10.75" text-anchor="middle" textLength="144.91" lengthAdjust="spacingAndGlyphs" fill="#111" stroke="#111" stroke-width="0.22">Percentage of Training Steps</text>
<text x="856.10" y="155.10" font-size="10.75" text-anchor="middle" textLength="99.62" lengthAdjust="spacingAndGlyphs" fill="#111" stroke="#111" stroke-width="0.22" transform="rotate(-90 856.10 155.10)">Validation Accuracy</text>
<text x="1067.00" y="13.40" font-size="12.92" text-anchor="middle" textLength="351.06" lengthAdjust="spacingAndGlyphs" fill="#111" stroke="#111" stroke-width="0.22">Pythia &amp; Mamba on Synthetic Grounding with 200 tokens</text>
<rect x="952.40" y="232.85" width="234.94" height="54.85" rx="1.55" fill="#666" fill-opacity="0.68"/>
<rect x="950.13" y="230.57" width="234.94" height="54.85" rx="2.07" fill="#fff" stroke="#d4d4d4" stroke-width="0.83"/>
<line x1="956.96" y1="242.17" x2="979.00" y2="242.17" stroke="#1a2d5a" stroke-width="1.55"/>
<text x="986.15" y="246.20" font-size="10.75" text-anchor="start" textLength="68.24" lengthAdjust="spacingAndGlyphs" fill="#111" stroke="#111" stroke-width="0.22">Pythia-lr 1e-5</text>
<line x1="956.96" y1="257.02" x2="979.00" y2="257.02" stroke="#3374b0" stroke-width="1.55"/>
<text x="986.15" y="261.05" font-size="10.75" text-anchor="start" textLength="68.24" lengthAdjust="spacingAndGlyphs" fill="#111" stroke="#111" stroke-width="0.22">Pythia-lr 5e-5</text>
<line x1="956.96" y1="271.87" x2="979.00" y2="271.87" stroke="#a3c9e2" stroke-width="1.55"/>
<text x="986.15" y="275.91" font-size="10.75" text-anchor="start" textLength="68.24" lengthAdjust="spacingAndGlyphs" fill="#111" stroke="#111" stroke-width="0.22">Pythia-lr 1e-4</text>
<line x1="1074.53" y1="242.17" x2="1096.58" y2="242.17" stroke="#a35636" stroke-width="1.55"/>
<text x="1103.72" y="246.20" font-size="10.75" text-anchor="start" textLength="74.18" lengthAdjust="spacingAndGlyphs" fill="#111" stroke="#111" stroke-width="0.22">Mamba-lr 1e-5</text>
<line x1="1074.53" y1="257.02" x2="1096.58" y2="257.02" stroke="#f0892b" stroke-width="1.55"/>
<text x="1103.72" y="261.05" font-size="10.75" text-anchor="start" textLength="74.18" lengthAdjust="spacingAndGlyphs" fill="#111" stroke="#111" stroke-width="0.22">Mamba-lr 5e-5</text>
<line x1="1074.53" y1="271.87" x2="1096.58" y2="271.87" stroke="#f7c27f" stroke-width="1.55"/>
<text x="1103.72" y="275.91" font-size="10.75" text-anchor="start" textLength="74.18" lengthAdjust="spacingAndGlyphs" fill="#111" stroke="#111" stroke-width="0.22">Mamba-lr 1e-4</text>
<text x="914.50" y="364.50" font-family="Liberation Serif" font-size="24.70" textLength="268.10" lengthAdjust="spacingAndGlyphs" fill="#000" stroke="#000" stroke-width="0.4">(c) Sequence length = 200.</text>
</svg></body></html>
